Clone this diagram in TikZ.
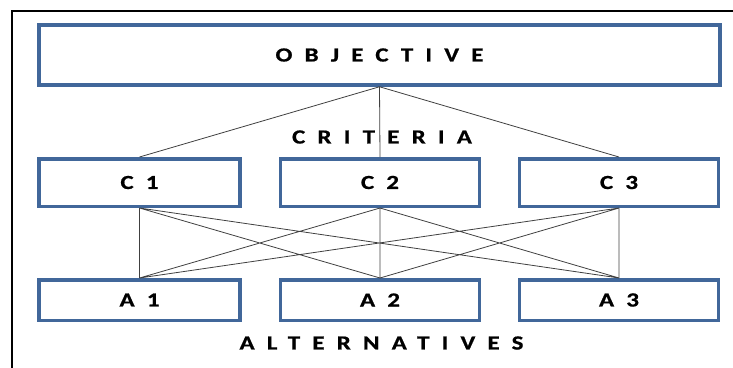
\documentclass[tikz,border=0pt]{standalone}
\usepackage{fontspec}
\setmainfont{Carlito}
\newfontfamily\spaced{Carlito}[LetterSpace=61, FakeStretch=1.25, FakeBold=0.8]
\usepackage{xcolor}
\usetikzlibrary{positioning}
\definecolor{boxblue}{HTML}{41679A}

\begin{document}
\begin{tikzpicture}[x=1pt, y=-1pt,
    box/.style={draw=boxblue, line width=3.5pt, fill=white, inner sep=0pt, outer sep=1.75pt},
    lbl/.style={font=\spaced\bfseries\fontsize{20}{24}\selectfont, text=black},
    link/.style={black!75, line width=0.8pt}]
    \useasboundingbox (0, 0) rectangle (733, 367);
    % outer frame, cut off on the right and at the bottom
    \draw[line width=1.6pt] (12, 11) rectangle (760, 390);

    \node[box, lbl, minimum width=681, minimum height=60] (obj) at (379.5, 55) {OBJECTIVE};
    \node[box, lbl, minimum width=201, minimum height=47.5] (c1) at (139.5, 182.5) {C1};
    \node[box, lbl, minimum width=199, minimum height=47.5] (c2) at (380, 182.5) {C2};
    \node[box, lbl, minimum width=199, minimum height=47.5] (c3) at (619, 182.5) {C3};
    \node[box, lbl, minimum width=201, minimum height=40.5] (a1) at (139.5, 300) {A1};
    \node[box, lbl, minimum width=199, minimum height=40.5] (a2) at (380, 300) {A2};
    \node[box, lbl, minimum width=199, minimum height=40.5] (a3) at (619, 300) {A3};
    \node[lbl] (crit) at (382, 137) {CRITERIA};
    \node[lbl] (alt) at (381.5, 343) {ALTERNATIVES};

    \draw[link]
    (obj.south) -- (c1.north)
    (obj.south) -- (c2.north)
    (obj.south) -- (c3.north)
    (c1.south) -- (a1.north)
    (c1.south) -- (a2.north)
    (c1.south) -- (a3.north)
    (c2.south) -- (a1.north)
    (c2.south) -- (a2.north)
    (c2.south) -- (a3.north)
    (c3.south) -- (a1.north)
    (c3.south) -- (a2.north)
    (c3.south) -- (a3.north);
\end{tikzpicture}
\end{document}
